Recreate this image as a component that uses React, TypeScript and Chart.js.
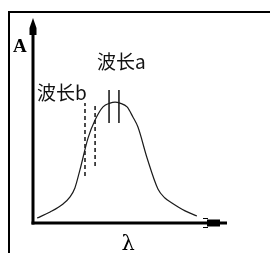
import React, { useEffect, useRef } from "react";
import { Chart, registerables } from "chart.js";

Chart.register(...registerables);

// Absorption spectrum (arbitrary units, axis origin = 0)
const wavelength = [2.1, 8.8, 15.5, 19.1, 21.6, 24.2, 28.4, 32.0, 36.1, 39.7, 42.3, 44.8, 48.5, 51.5, 54.1, 58.8, 64.4, 68.0, 71.6, 78.4, 84.5];
const absorbance = [2.4, 5.4, 9.3, 12.7, 17.1, 25.9, 41.5, 50.2, 56.6, 58.5, 59.0, 58.5, 56.6, 51.7, 46.8, 31.7, 16.6, 12.2, 9.8, 5.9, 3.4];

// Wavelength a: two solid marks around the peak
const waveAX = [39.2, 44.3];
const waveAYRange = [48.8, 64.9];
// Wavelength b: two dashed marks on the rising slope
const waveBX = [26.8, 32.0];
const waveBTop = [58.5, 58.5];
const waveBBottom = [22.9, 27.8];

const labelTexts = ["波长a", "波长b"];
const labelX = [33.0, 2.1];
const labelY = [75.1, 60.0];

const yAxisTitle = "A";
const xAxisTitle = "λ";
const yTitlePos = [-10.3, 83.4];
const xTitlePos = [49, -13.0];

export default function App() {
  const ref = useRef<HTMLCanvasElement | null>(null);

  useEffect(() => {
    if (!ref.current) return;
    const curve = wavelength.map((x, i) => ({ x, y: absorbance[i] }));
    const datasets: any[] = [
      {
        data: curve,
        borderColor: "#1a1a1a",
        borderWidth: 1.2,
        pointRadius: 0,
        tension: 0.35,
        cubicInterpolationMode: "monotone",
        fill: false,
      },
    ];
    waveAX.forEach((x) => {
      datasets.push({
        data: [
          { x, y: waveAYRange[0] },
          { x, y: waveAYRange[1] },
        ],
        borderColor: "#111",
        borderWidth: 1.5,
        pointRadius: 0,
        fill: false,
      });
    });
    waveBX.forEach((x, i) => {
      datasets.push({
        data: [
          { x, y: waveBBottom[i] },
          { x, y: waveBTop[i] },
        ],
        borderColor: "#111",
        borderWidth: 1.5,
        borderDash: [4, 3],
        pointRadius: 0,
        fill: false,
      });
    });

    const decor = {
      id: "decor",
      afterDatasetsDraw(chart: any) {
        const { ctx, chartArea, scales } = chart;
        const xs = scales.x;
        const ys = scales.y;
        const x0 = xs.getPixelForValue(0);
        const y0 = ys.getPixelForValue(0);
        const left = chartArea.left;
        const right = chartArea.right;
        const top = chartArea.top;
        ctx.save();
        ctx.strokeStyle = "#000";
        ctx.fillStyle = "#000";
        ctx.lineWidth = 3;
        ctx.lineCap = "butt";
        // y axis
        ctx.beginPath();
        ctx.moveTo(x0, y0 + 1.5);
        ctx.lineTo(x0, top + 10);
        ctx.stroke();
        // x axis
        ctx.beginPath();
        ctx.moveTo(left - 1.5, y0);
        ctx.lineTo(right - 10, y0);
        ctx.stroke();
        // y arrow
        ctx.beginPath();
        ctx.moveTo(x0, top);
        ctx.lineTo(x0 + 3.5, top + 10);
        ctx.lineTo(x0 + 3.5, top + 17);
        ctx.lineTo(x0 - 3.5, top + 17);
        ctx.lineTo(x0 - 3.5, top + 10);
        ctx.closePath();
        ctx.fill();
        // x arrow
        ctx.beginPath();
        ctx.moveTo(right - 20, y0 - 3.5);
        ctx.lineTo(right - 7, y0 - 3.5);
        ctx.lineTo(right - 7, y0 - 1.5);
        ctx.lineTo(right, y0 - 1.5);
        ctx.lineTo(right, y0 + 1.5);
        ctx.lineTo(right - 7, y0 + 1.5);
        ctx.lineTo(right - 7, y0 + 3.5);
        ctx.lineTo(right - 20, y0 + 3.5);
        ctx.closePath();
        ctx.fill();
        ctx.lineWidth = 1;
        ctx.beginPath();
        ctx.moveTo(right - 24, y0 - 4.5);
        ctx.lineTo(right - 19, y0 - 4.5);
        ctx.moveTo(right - 24, y0 + 4.5);
        ctx.lineTo(right - 19, y0 + 4.5);
        ctx.stroke();

        // labels
        ctx.textBaseline = "alphabetic";
        ctx.textAlign = "left";
        ctx.fillStyle = "#111";
        ctx.font = '19px "Noto Sans CJK SC", sans-serif';
        labelTexts.forEach((t, i) => {
          ctx.fillText(t, xs.getPixelForValue(labelX[i]), ys.getPixelForValue(labelY[i]));
        });
        ctx.fillStyle = "#000";
        ctx.font = 'bold 19px "Liberation Serif", serif';
        ctx.fillText(yAxisTitle, xs.getPixelForValue(yTitlePos[0]), ys.getPixelForValue(yTitlePos[1]));
        ctx.textAlign = "center";
        ctx.font = '21px "DejaVu Serif", serif';
        ctx.fillText(xAxisTitle, xs.getPixelForValue(xTitlePos[0]), ys.getPixelForValue(xTitlePos[1]));
        ctx.restore();
      },
    };

    const chart = new Chart(ref.current, {
      type: "line",
      data: { datasets },
      options: {
        animation: false,
        responsive: false,
        devicePixelRatio: 1,
        parsing: true,
        layout: { padding: { left: 33, right: 43, top: 18, bottom: 30 } },
        plugins: { legend: { display: false }, tooltip: { enabled: false } },
        scales: {
          x: { type: "linear", min: 0, max: 100, display: false },
          y: { type: "linear", min: 0, max: 100, display: false },
        },
      },
      plugins: [decor],
    });
    return () => chart.destroy();
  }, []);

  return (
    <div style={{ position: "fixed", left: 0, top: 0, width: 270, height: 253, background: "#fff", overflow: "hidden" }}>
      <div
        style={{
          position: "absolute",
          left: 8,
          top: 11,
          width: 270,
          height: 260,
          borderLeft: "2px solid #000",
          borderTop: "2px solid #000",
        }}
      />
      <canvas ref={ref} width={270} height={253} style={{ position: "absolute", left: 0, top: 0 }} />
    </div>
  );
}
